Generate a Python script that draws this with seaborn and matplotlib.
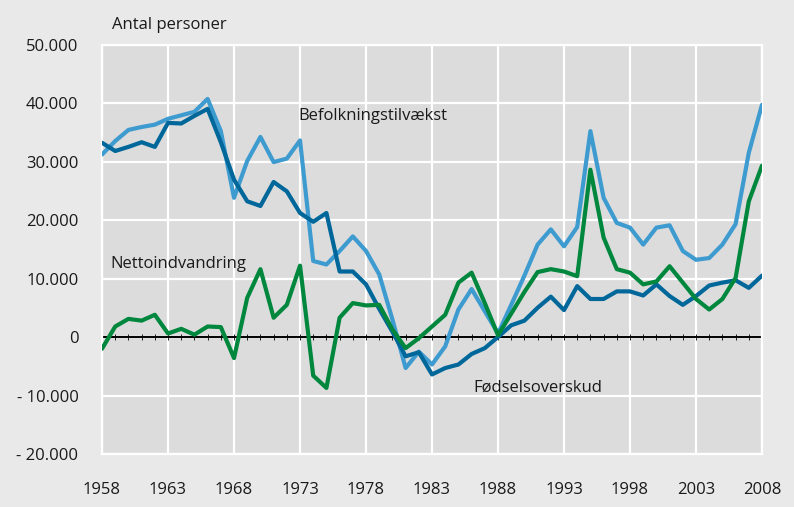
import numpy as np
import pandas as pd
import matplotlib
matplotlib.use("Agg")
import matplotlib.pyplot as plt
import seaborn as sns
from matplotlib.ticker import FuncFormatter

years = list(range(1958, 2009))

befolkningstilvaekst = [31200, 33500, 35400, 35900, 36300, 37300, 37900, 38500, 40700, 35200,
                        23800, 30100, 34200, 29900, 30500, 33600, 13000, 12400, 14700, 17200,
                        14700, 10700, 3000, -5300, -2500, -4700, -1600, 4700, 8200, 4400,
                        600, 5500, 10500, 15800, 18400, 15500, 18800, 35200, 23800, 19500,
                        18700, 15800, 18700, 19100, 14700, 13200, 13500, 15800, 19300, 31500,
                        39700]

foedselsoverskud = [33200, 31800, 32500, 33300, 32500, 36600, 36500, 37800, 39000, 33300,
                    26900, 23200, 22400, 26500, 24900, 21200, 19700, 21200, 11200, 11200,
                    9000, 4800, 900, -3300, -2600, -6400, -5300, -4700, -2900, -1900,
                    0, 2000, 2800, 5000, 6900, 4600, 8700, 6500, 6500, 7800,
                    7800, 7100, 9000, 7000, 5500, 7000, 8800, 9300, 9700, 8400,
                    10500]

nettoindvandring = [-2000, 1800, 3100, 2800, 3800, 600, 1400, 400, 1800, 1700,
                    -3600, 6700, 11600, 3300, 5500, 12200, -6600, -8700, 3300, 5800,
                    5400, 5500, 1300, -1900, -200, 1800, 3800, 9300, 11000, 5800,
                    300, 4000, 7700, 11100, 11600, 11200, 10400, 28600, 17000, 11600,
                    11000, 9000, 9500, 12100, 9300, 6500, 4700, 6500, 10100, 23200,
                    29300]

y_ticks = [-20000, -10000, 0, 10000, 20000, 30000, 40000, 50000]
x_ticks = [1958, 1963, 1968, 1973, 1978, 1983, 1988, 1993, 1998, 2003, 2008]

series_names = ["Befolkningstilvækst", "Fødselsoverskud", "Nettoindvandring"]
colors = {"Befolkningstilvækst": "#3d9bd0",
          "Fødselsoverskud": "#00679a",
          "Nettoindvandring": "#00873e"}

df = pd.DataFrame({
    "year": years * 3,
    "value": befolkningstilvaekst + foedselsoverskud + nettoindvandring,
    "series": [series_names[0]] * len(years) + [series_names[1]] * len(years) + [series_names[2]] * len(years),
})

sns.set_theme(style="white")
plt.rcParams['font.family'] = ['Open Sans', 'DejaVu Sans']

fig = plt.figure(figsize=(7.94, 5.07), dpi=100, facecolor="#e9e9e9")
ax = fig.add_axes([0.1285, 0.1045, 0.8312, 0.8077])
ax.set_facecolor("#dcdcdc")

ax.set_xlim(1958, 2008)
ax.set_ylim(-20000, 50000)
ax.set_xticks(x_ticks)
ax.set_yticks(y_ticks)
ax.grid(True, color="white", linewidth=1.6)
ax.set_axisbelow(True)
for s in ax.spines.values():
    s.set_color("white")
    s.set_linewidth(1.6)

# zero line with small year ticks
ax.axhline(0, color="black", linewidth=1.4, zorder=2)
ax.plot(years, [0] * len(years), linestyle="none", marker="|", markersize=4,
        color="black", markeredgewidth=0.6, zorder=2)

sns.lineplot(data=df, x="year", y="value", hue="series", palette=colors,
             linewidth=3.0, ax=ax, legend=False, zorder=3)

ax.set_xlabel("")
ax.set_ylabel("")

def fmt(v, pos):
    s = f"{abs(int(v)):,}".replace(",", ".")
    return ("- " + s) if v < 0 else s

ax.yaxis.set_major_formatter(FuncFormatter(fmt))
ax.tick_params(axis="y", length=0, pad=17, labelsize=12, labelcolor="#1a1a1a")
ax.tick_params(axis="x", length=0, pad=20, labelsize=12, labelcolor="#1a1a1a")

fig.text(112 / 794, 1 - 25 / 507, "Antal personer", fontsize=12, color="#1a1a1a",
         ha="left", va="center")
ax.text(1972.9, 37700, "Befolkningstilvækst", fontsize=12, color="#1a1a1a", ha="left", va="center")
ax.text(1958.6, 12400, "Nettoindvandring", fontsize=12, color="#1a1a1a", ha="left", va="center")
ax.text(1986.1, -8650, "Fødselsoverskud", fontsize=12, color="#1a1a1a", ha="left", va="center")

fig.savefig("out.png", dpi=100, facecolor=fig.get_facecolor())
